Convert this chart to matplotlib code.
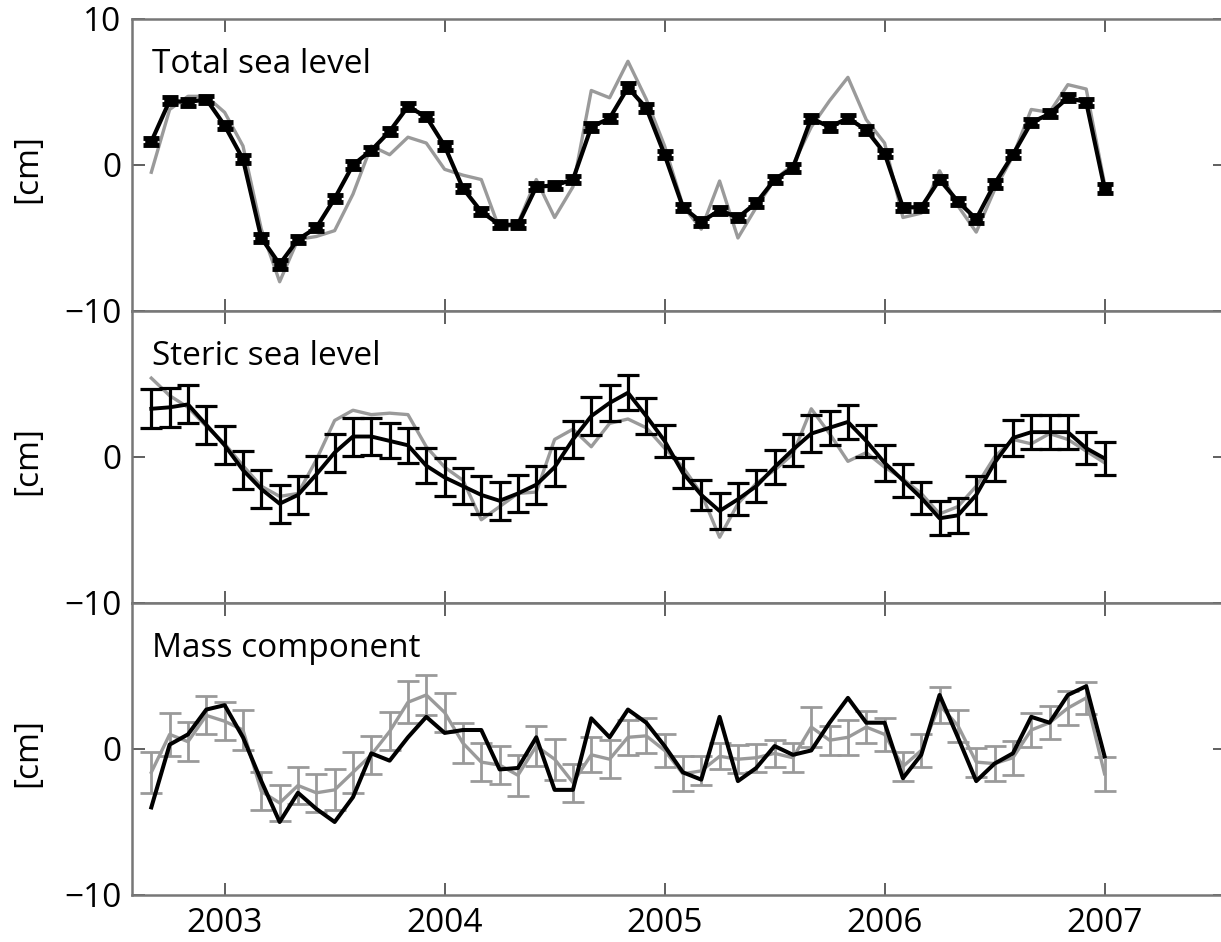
import numpy as np
import matplotlib
matplotlib.use('Agg')
import matplotlib.pyplot as plt

plt.rcParams['font.family'] = ['Open Sans', 'DejaVu Sans']

# monthly samples, Sep 2002 .. Jan 2007
start_year = 2002 + 8/12
n_months = 53
t = start_year + np.arange(n_months)/12

# Total sea level (black = altimetry w/ small bars, gray = steric + mass)
total_black = [1.6, 4.4, 4.3, 4.5, 2.7, 0.4, -5.0, -6.8, -5.1, -4.3, -2.3, 0.0,
               1.0, 2.3, 4.0, 3.3, 1.3, -1.6, -3.2, -4.1, -4.1, -1.5, -1.4, -1.0,
               2.6, 3.2, 5.3, 3.9, 0.7, -2.9, -3.9, -3.1, -3.6, -2.6, -1.0, -0.2,
               3.2, 2.6, 3.2, 2.4, 0.8, -2.9, -2.9, -1.0, -2.5, -3.7, -1.3, 0.7,
               2.9, 3.5, 4.6, 4.3, -1.6]
total_err = [0.25, 0.25, 0.25, 0.25, 0.25, 0.25, 0.25, 0.3, 0.25, 0.25, 0.25, 0.25,
             0.25, 0.25, 0.25, 0.25, 0.25, 0.25, 0.25, 0.25, 0.25, 0.25, 0.25, 0.25,
             0.25, 0.25, 0.3, 0.25, 0.25, 0.25, 0.25, 0.25, 0.25, 0.25, 0.25, 0.25,
             0.25, 0.25, 0.25, 0.25, 0.25, 0.25, 0.25, 0.25, 0.25, 0.25, 0.25, 0.25,
             0.25, 0.25, 0.25, 0.25, 0.3]
total_gray = [-0.5, 3.8, 4.7, 4.7, 3.6, 1.3, -4.4, -8.0, -5.1, -4.9, -4.5, -2.0,
              1.3, 0.7, 1.9, 1.5, -0.3, -0.7, -1.0, -4.4, -4.0, -1.0, -3.6, -1.5,
              5.1, 4.6, 7.1, 4.5, 1.3, -2.8, -4.4, -1.1, -5.0, -2.9, -1.0, 0.0,
              2.6, 4.4, 6.0, 3.1, 1.5, -3.6, -3.3, -0.4, -2.8, -4.6, -1.7, 0.6,
              3.8, 3.6, 5.5, 5.2, -1.3]

# Steric sea level
steric_black = [3.3, 3.4, 3.6, 2.2, 0.8, -0.9, -2.2, -3.2, -2.6, -1.2, 0.3, 1.4,
                1.4, 1.1, 0.8, -0.6, -1.4, -2.0, -2.6, -3.0, -2.5, -1.9, -0.7, 1.2,
                2.8, 3.7, 4.4, 2.8, 1.1, -1.1, -2.6, -3.7, -2.9, -2.0, -0.7, 0.5,
                1.6, 2.0, 2.4, 1.1, -0.4, -1.6, -2.8, -4.2, -4.0, -2.6, -0.4, 1.3,
                1.7, 1.7, 1.7, 0.6, -0.1]
steric_err = [1.35, 1.35, 1.3, 1.3, 1.3, 1.3, 1.3, 1.3, 1.3, 1.3, 1.3, 1.3,
              1.25, 1.2, 1.2, 1.2, 1.3, 1.25, 1.3, 1.3, 1.25, 1.3, 1.3, 1.25,
              1.3, 1.25, 1.2, 1.25, 1.1, 1.05, 1.05, 1.25, 1.1, 1.1, 1.15, 1.1,
              1.25, 1.15, 1.15, 1.1, 1.25, 1.15, 1.1, 1.15, 1.2, 1.3, 1.25, 1.2,
              1.15, 1.15, 1.15, 1.1, 1.15]
steric_gray = [5.4, 4.2, 3.4, 2.1, 0.9, -0.6, -2.0, -2.7, -2.5, -0.2, 2.5, 3.2,
               2.9, 3.0, 2.9, 0.7, -0.7, -1.6, -4.3, -3.4, -2.5, -2.4, 1.2, 1.9,
               0.7, 2.3, 2.6, 2.0, 0.6, -0.7, -2.5, -5.5, -3.2, -1.8, -0.9, 0.2,
               3.3, 1.6, -0.3, 0.3, -0.7, -1.5, -2.5, -3.9, -3.4, -2.0, 0.0, 1.2,
               0.9, 1.6, 1.2, 0.4, -0.4]

# Mass component (black = total - steric, gray = GRACE w/ bars)
mass_black = [-4.0, 0.3, 1.0, 2.7, 3.0, 0.8, -2.2, -5.0, -3.0, -4.1, -5.0, -3.3,
              -0.3, -0.8, 0.8, 2.2, 1.1, 1.3, 1.3, -1.4, -1.3, 0.8, -2.8, -2.8,
              2.1, 0.8, 2.7, 1.8, 0.2, -1.6, -2.1, 2.2, -2.2, -1.3, 0.2, -0.4,
              -0.1, 1.8, 3.5, 1.8, 1.8, -2.0, -0.4, 3.7, 0.8, -2.2, -1.0, -0.3,
              2.2, 1.8, 3.7, 4.3, -0.5]
mass_gray = [-1.6, 1.0, 0.5, 2.3, 1.9, 1.3, -2.9, -3.7, -2.5, -3.0, -2.8, -1.6,
             -0.4, 1.2, 3.2, 3.7, 2.5, 0.4, -0.9, -1.1, -1.8, 0.2, -0.7, -2.3,
             -0.4, -0.7, 0.8, 0.9, -0.1, -1.7, -1.5, -0.5, -0.7, -0.6, -0.3, -0.6,
             1.5, 0.6, 0.8, 1.5, 1.0, -1.2, -0.1, 3.0, 1.6, -0.9, -1.0, -0.6,
             1.3, 1.8, 2.8, 3.5, -1.7]
mass_err = [1.4, 1.45, 1.35, 1.3, 1.3, 1.4, 1.3, 1.25, 1.25, 1.3, 1.4, 1.4,
            1.3, 1.3, 1.45, 1.4, 1.35, 1.35, 1.3, 1.3, 1.4, 1.35, 1.4, 1.3,
            1.2, 1.3, 1.2, 1.2, 1.15, 1.2, 1.0, 0.9, 0.95, 0.95, 0.9, 1.0,
            1.35, 1.0, 1.2, 1.1, 1.15, 1.0, 1.15, 1.25, 1.1, 1.0, 1.2, 1.15,
            1.15, 1.15, 1.15, 1.1, 1.15]

titles = ['Total sea level', 'Steric sea level', 'Mass component']
year_ticks = [2003, 2004, 2005, 2006, 2007]

GRAY = '#9a9a9a'
SPINE = '#777777'
FS = 24

fig = plt.figure(figsize=(12.21, 9.42), dpi=100)
left, width = 0.1085, 0.8945
h = 0.31
bottoms = [0.6699, 0.3599, 0.0499]
axes = [fig.add_axes([left, b, width, h]) for b in bottoms]

ax = axes[0]
ax.plot(t, total_gray, color=GRAY, lw=2.4, zorder=2)
ax.errorbar(t, total_black, yerr=total_err, fmt='-', color='black', lw=3.0,
            elinewidth=9, capsize=6, capthick=3.5, zorder=3)

ax = axes[1]
ax.plot(t, steric_gray, color=GRAY, lw=2.4, zorder=2)
ax.errorbar(t, steric_black, yerr=steric_err, fmt='-', color='black', lw=2.8,
            elinewidth=2.3, capsize=8, capthick=2.3, zorder=3)

ax = axes[2]
ax.errorbar(t, mass_gray, yerr=mass_err, fmt='-', color=GRAY, lw=2.4,
            elinewidth=2.0, capsize=8, capthick=2.0, zorder=2)
ax.plot(t, mass_black, color='black', lw=2.9, zorder=3)

for i, ax in enumerate(axes):
    ax.set_xlim(2002.581, 2007.546)
    ax.set_ylim(-10, 10)
    ax.set_yticks([-10, 0, 10])
    if i == 0:
        ax.set_yticklabels(['\u221210', '0', '10'])
    else:
        ax.set_yticklabels(['\u221210', '0', ''])
    ax.set_xticks(year_ticks)
    if i == 2:
        ax.set_xticklabels([str(y) for y in year_ticks])
    else:
        ax.set_xticklabels([])
    ax.tick_params(direction='in', length=9, width=1.2, color='#444444',
                   top=True, right=True, labelsize=FS, pad=8)
    ax.tick_params(axis='x', pad=9)
    for s in ax.spines.values():
        s.set_color(SPINE)
        s.set_linewidth(1.8)
    ax.text(0.018, 0.815, titles[i], transform=ax.transAxes, fontsize=FS,
            ha='left', va='baseline')
    yc = bottoms[i] + h/2 - 0.004
    fig.text(28/1221, yc, '[cm]', rotation=90, ha='center', va='center',
             fontsize=FS)

fig.savefig('out.png', dpi=100)
